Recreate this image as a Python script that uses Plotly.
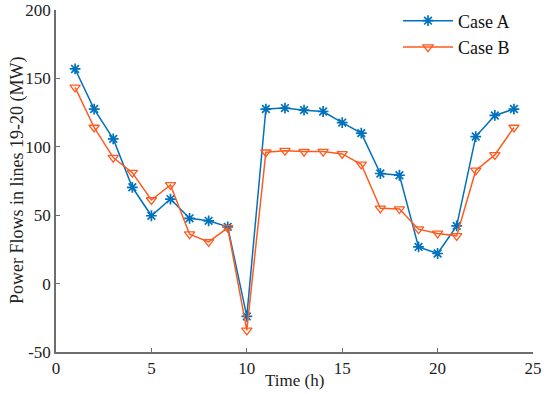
import plotly.graph_objects as go

hours = list(range(1, 25))
case_a = [156.9, 127.6, 105.8, 70.4, 49.6, 61.8, 47.7, 45.9, 41.5, -24.0,
          127.6, 128.3, 126.8, 125.8, 117.7, 110.0, 80.5, 79.2, 26.8, 22.0,
          42.2, 107.5, 122.9, 127.6]
case_b = [143.4, 114.1, 92.1, 81.1, 61.1, 72.1, 36.1, 30.5, 40.8, -34.2,
          96.0, 97.2, 96.5, 96.5, 94.8, 87.2, 55.0, 54.5, 39.8, 36.7,
          34.9, 82.7, 94.1, 114.1]
x_ticks = [0, 5, 10, 15, 20, 25]
y_ticks = [-50, 0, 50, 100, 150, 200]
y_tick_text = ["-50", "0", "50", "100", "150", "200"]

blue = "#0072BD"
orange = "#FF5A1F"
axis_col = "#6e6e6e"
txt = "#222222"
font = "Liberation Serif"

fig = go.Figure()
fig.add_trace(go.Scatter(
    x=hours, y=case_a, name="Case A", mode="lines+markers",
    line=dict(color=blue, width=1.5),
    marker=dict(symbol="asterisk-open", size=9, color=blue,
                line=dict(color=blue, width=1.7)),
))
fig.add_trace(go.Scatter(
    x=hours, y=case_b, name="Case B", mode="lines+markers",
    line=dict(color=orange, width=1.5),
    marker=dict(symbol="triangle-down-open", size=9, color=orange,
                line=dict(color=orange, width=1.3)),
))

fig.update_layout(
    width=550, height=394,
    margin=dict(l=56, r=17, t=10, b=42, autoexpand=False),
    paper_bgcolor="white", plot_bgcolor="white",
    font=dict(family=font, size=17, color=txt),
    showlegend=True,
    legend=dict(x=0.717, y=1.022, xanchor="left", yanchor="top",
                bgcolor="rgba(0,0,0,0)", font=dict(size=18, family=font, color="#111111"),
                itemwidth=50, tracegroupgap=4),
    xaxis=dict(range=[0, 25], tickvals=x_ticks, showgrid=False, zeroline=False,
               automargin=False,
               showline=True, linecolor=axis_col, linewidth=1.5,
               ticks="inside", ticklen=4, tickcolor=axis_col, tickwidth=1,
               tickfont=dict(size=17, family=font, color=txt)),
    yaxis=dict(range=[-50, 200], tickvals=y_ticks, ticktext=y_tick_text,
               showgrid=False, zeroline=False, automargin=False,
               showline=True, linecolor=axis_col, linewidth=1.5,
               ticks="inside", ticklen=4, tickcolor=axis_col, tickwidth=1,
               tickfont=dict(size=17, family=font, color=txt)),
    annotations=[
        dict(text="Time (h)", xref="paper", yref="paper", x=0.5, y=0,
             xanchor="center", yanchor="middle", yshift=-28, showarrow=False,
             font=dict(size=17, family=font, color=txt)),
        dict(text="Power Flows in lines 19-20 (MW)", xref="paper", yref="paper",
             x=0, y=0.5, xanchor="center", yanchor="middle", xshift=-39,
             textangle=-90, showarrow=False,
             font=dict(size=18, family=font, color=txt)),
    ],
)

fig.write_html("out.html", config={"displayModeBar": False},
               post_script="document.body.style.margin='0';")
